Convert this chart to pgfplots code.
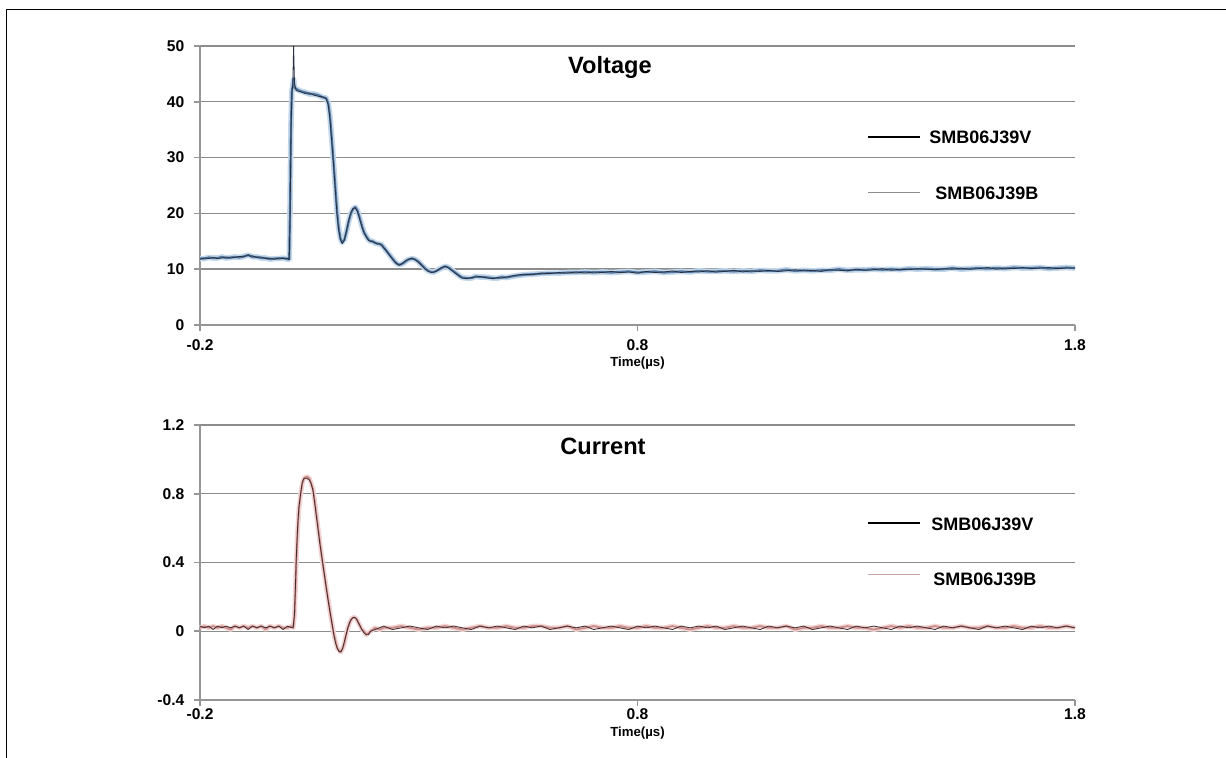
\documentclass[border=0pt]{standalone}
\usepackage{pgfplots}
\pgfplotsset{compat=1.18}
\usepackage{pgfplotstable}
\usepackage{fontspec}
\setmainfont{Liberation Sans}

\definecolor{axisgray}{RGB}{150,150,150}
\definecolor{gridgray}{RGB}{140,140,140}
\definecolor{vdark}{RGB}{38,48,62}
\definecolor{vblue}{RGB}{84,118,158}
\definecolor{vhalo}{RGB}{196,216,236}
\definecolor{cdark}{RGB}{62,44,44}
\definecolor{cred}{RGB}{205,140,140}
\definecolor{chalo}{RGB}{242,214,214}
\definecolor{legB}{RGB}{140,140,140}
\definecolor{legBc}{RGB}{205,168,168}

% clamping voltage, V
\pgfplotstableread{
t V B
-0.200 11.8 11.9
-0.190 12.0 11.9
-0.180 11.9 12.1
-0.170 12.1 12.0
-0.160 11.9 12.0
-0.150 12.0 12.2
-0.140 12.2 12.0
-0.130 12.0 12.1
-0.120 12.1 12.2
-0.110 12.3 12.1
-0.100 12.2 12.3
-0.090 12.6 12.5
-0.085 12.3 12.4
-0.080 12.4 12.2
-0.070 12.1 12.2
-0.060 12.2 12.0
-0.050 11.9 12.0
-0.040 12.0 11.8
-0.030 11.8 11.9
-0.020 12.0 11.9
-0.010 11.9 12.0
0.000 12.0 11.8
0.004 11.7 11.8
0.006 20.0 22.0
0.008 35.0 36.0
0.010 41.5 42.0
0.012 43.0 42.8
0.014 50.0 44.0
0.016 43.2 42.6
0.020 42.0 42.3
0.030 41.8 41.9
0.040 41.5 41.7
0.050 41.6 41.4
0.060 41.2 41.4
0.070 41.0 41.2
0.080 40.9 40.8
0.088 40.6 40.7
0.093 39.5 39.8
0.097 37.0 37.5
0.101 33.0 33.6
0.105 29.0 29.4
0.109 24.5 25.0
0.113 20.0 20.6
0.117 17.0 17.4
0.121 15.3 15.5
0.125 14.6 14.8
0.130 15.2 15.3
0.135 17.0 16.8
0.140 18.8 18.6
0.145 20.2 20.0
0.150 20.9 20.8
0.155 21.0 21.1
0.160 20.3 20.5
0.165 19.0 19.2
0.170 17.6 17.8
0.175 16.5 16.6
0.180 15.8 15.9
0.185 15.2 15.3
0.190 15.0 15.0
0.195 14.9 15.0
0.200 14.8 14.7
0.205 14.5 14.6
0.210 14.6 14.5
0.215 14.3 14.4
0.220 13.8 13.9
0.225 13.4 13.4
0.230 12.8 12.9
0.235 12.3 12.4
0.240 11.8 11.9
0.245 11.3 11.4
0.250 11.0 11.0
0.255 10.7 10.8
0.260 10.9 10.9
0.265 11.2 11.1
0.270 11.5 11.4
0.275 11.7 11.7
0.280 11.9 11.8
0.285 12.0 11.9
0.290 11.8 11.8
0.295 11.5 11.6
0.300 11.2 11.3
0.305 10.8 10.9
0.310 10.4 10.5
0.315 10.0 10.1
0.320 9.7 9.8
0.325 9.5 9.6
0.330 9.4 9.5
0.335 9.5 9.5
0.340 9.6 9.7
0.345 9.9 9.9
0.350 10.2 10.1
0.355 10.4 10.3
0.360 10.5 10.5
0.365 10.4 10.4
0.370 10.1 10.2
0.375 9.8 9.9
0.380 9.5 9.6
0.385 9.2 9.3
0.390 8.9 9.0
0.395 8.6 8.7
0.400 8.4 8.5
0.410 8.3 8.4
0.420 8.5 8.4
0.430 8.6 8.7
0.440 8.7 8.6
0.450 8.5 8.6
0.460 8.4 8.5
0.470 8.3 8.4
0.480 8.5 8.4
0.490 8.4 8.6
0.500 8.6 8.5
0.520 8.9 8.8
0.540 9.1 9.0
0.560 9.0 9.1
0.580 9.3 9.2
0.600 9.2 9.3
0.620 9.4 9.3
0.640 9.3 9.4
0.660 9.5 9.4
0.680 9.3 9.5
0.700 9.5 9.4
0.720 9.4 9.5
0.740 9.6 9.4
0.760 9.4 9.5
0.780 9.5 9.6
0.800 9.3 9.4
0.820 9.6 9.5
0.840 9.4 9.6
0.860 9.5 9.4
0.880 9.7 9.5
0.900 9.4 9.6
0.920 9.6 9.5
0.940 9.5 9.7
0.960 9.7 9.6
0.980 9.5 9.6
1.000 9.6 9.7
1.020 9.8 9.6
1.040 9.5 9.7
1.060 9.7 9.6
1.080 9.6 9.8
1.100 9.8 9.7
1.120 9.6 9.7
1.140 9.7 9.9
1.160 9.9 9.7
1.180 9.7 9.8
1.200 9.8 9.7
1.220 9.6 9.8
1.240 9.9 9.8
1.260 9.8 10.0
1.280 9.7 9.8
1.300 10.0 9.9
1.320 9.8 9.9
1.340 9.9 10.0
1.360 10.1 9.9
1.380 9.8 10.0
1.400 10.0 9.9
1.420 9.9 10.1
1.440 10.1 10.0
1.460 10.0 10.1
1.480 9.9 10.0
1.500 10.1 10.0
1.520 10.0 10.2
1.540 10.2 10.0
1.560 10.0 10.1
1.580 10.1 10.2
1.600 10.3 10.1
1.620 10.0 10.2
1.640 10.2 10.1
1.660 10.1 10.3
1.680 10.3 10.2
1.700 10.1 10.2
1.720 10.2 10.3
1.740 10.3 10.1
1.760 10.1 10.2
1.780 10.2 10.3
1.800 10.2 10.2
}\voltdata

% pulse current, A
\pgfplotstableread{
t V B
-0.200 0.03 0.02
-0.190 0.02 0.03
-0.180 0.03 0.02
-0.170 0.01 0.03
-0.160 0.03 0.02
-0.150 0.02 0.03
-0.140 0.03 0.02
-0.130 0.02 0.01
-0.120 0.03 0.03
-0.110 0.02 0.02
-0.100 0.03 0.03
-0.090 0.01 0.02
-0.080 0.03 0.03
-0.070 0.02 0.02
-0.060 0.03 0.03
-0.050 0.02 0.01
-0.040 0.03 0.03
-0.030 0.02 0.02
-0.020 0.03 0.03
-0.010 0.01 0.02
0.000 0.03 0.02
0.010 0.02 0.03
0.013 0.02 0.02
0.016 0.10 0.09
0.018 0.25 0.23
0.020 0.42 0.40
0.023 0.60 0.58
0.026 0.72 0.71
0.030 0.80 0.80
0.034 0.87 0.86
0.038 0.89 0.89
0.044 0.89 0.90
0.050 0.88 0.89
0.054 0.86 0.86
0.058 0.82 0.83
0.062 0.75 0.76
0.066 0.67 0.68
0.070 0.59 0.60
0.074 0.51 0.52
0.078 0.44 0.44
0.082 0.37 0.37
0.086 0.30 0.30
0.090 0.23 0.23
0.094 0.16 0.17
0.098 0.10 0.10
0.102 0.04 0.04
0.106 -0.02 -0.02
0.110 -0.07 -0.06
0.114 -0.10 -0.10
0.118 -0.12 -0.11
0.122 -0.12 -0.12
0.126 -0.10 -0.10
0.130 -0.06 -0.07
0.134 -0.02 -0.02
0.138 0.02 0.02
0.142 0.05 0.05
0.146 0.07 0.07
0.150 0.08 0.08
0.154 0.08 0.08
0.158 0.07 0.07
0.162 0.05 0.05
0.166 0.03 0.03
0.170 0.01 0.01
0.175 -0.01 0.00
0.180 -0.02 -0.02
0.185 -0.02 -0.01
0.190 0.00 0.00
0.200 0.01 0.02
0.210 0.02 0.01
0.220 0.03 0.02
0.240 0.01 0.02
0.260 0.02 0.03
0.280 0.03 0.02
0.300 0.02 0.01
0.320 0.01 0.02
0.340 0.03 0.02
0.360 0.02 0.03
0.380 0.03 0.02
0.400 0.02 0.01
0.420 0.01 0.02
0.440 0.03 0.03
0.460 0.02 0.02
0.480 0.03 0.02
0.500 0.02 0.03
0.520 0.01 0.02
0.540 0.03 0.02
0.560 0.02 0.03
0.580 0.03 0.03
0.600 0.01 0.02
0.620 0.02 0.02
0.640 0.03 0.03
0.660 0.02 0.01
0.680 0.03 0.02
0.700 0.01 0.03
0.720 0.02 0.02
0.740 0.03 0.02
0.760 0.02 0.03
0.780 0.01 0.02
0.800 0.03 0.02
0.820 0.02 0.03
0.840 0.03 0.02
0.860 0.02 0.02
0.880 0.01 0.03
0.900 0.03 0.02
0.920 0.02 0.01
0.940 0.03 0.02
0.960 0.02 0.03
0.980 0.03 0.02
1.000 0.01 0.02
1.020 0.02 0.03
1.040 0.03 0.02
1.060 0.02 0.02
1.080 0.01 0.03
1.100 0.03 0.02
1.120 0.02 0.02
1.140 0.03 0.03
1.160 0.02 0.01
1.180 0.03 0.02
1.200 0.01 0.02
1.220 0.02 0.03
1.240 0.03 0.02
1.260 0.02 0.02
1.280 0.01 0.03
1.300 0.03 0.02
1.320 0.02 0.02
1.340 0.03 0.01
1.360 0.02 0.02
1.380 0.01 0.03
1.400 0.03 0.02
1.420 0.02 0.03
1.440 0.03 0.02
1.460 0.02 0.02
1.480 0.01 0.03
1.500 0.03 0.02
1.520 0.02 0.02
1.540 0.03 0.03
1.560 0.02 0.02
1.580 0.01 0.02
1.600 0.03 0.03
1.620 0.02 0.02
1.640 0.03 0.02
1.660 0.02 0.03
1.680 0.01 0.02
1.700 0.03 0.02
1.720 0.02 0.03
1.740 0.03 0.02
1.760 0.02 0.02
1.780 0.03 0.03
1.800 0.02 0.02
}\currdata

\pgfplotsset{
  scopeplot/.style={
    scale only axis, width=437.5pt,
    xmin=-0.2, xmax=1.8,
    clip=false,
    axis x line*=bottom, axis y line*=left,
    axis line style={draw=axisgray, line width=1pt},
    xtick={-0.2,0.8,1.8}, xticklabels={-0.2,0.8,1.8},
    ymajorgrids, grid style={draw=gridgray, line width=0.7pt},
    tick align=outside, major tick length=2.8pt,
    tick style={draw=axisgray, line width=0.8pt},
    tick label style={font=\fontsize{7.8pt}{9pt}\selectfont\bfseries},
    yticklabel style={xshift=-1.5pt},
    xticklabel style={yshift=-1.2pt},
    xlabel style={font=\fontsize{6.6pt}{8pt}\selectfont\bfseries, anchor=center,
      at={(axis description cs:0.5,0)}},
    xlabel={Time(µs)},
  },
}

\begin{document}
\begin{tikzpicture}
\useasboundingbox (0,0) rectangle (613pt,-379pt);
% figure frame
\draw[line width=0.75pt] (3.25pt,-380pt) -- (3.25pt,-4.75pt) -- (614pt,-4.75pt);

% voltage
\begin{axis}[scopeplot,
  at={(100pt,-162.5pt)}, anchor=south west, height=139.5pt,
  ymin=0, ymax=50,
  ytick={0,10,20,30,40,50}, yticklabels={0,10,20,30,40,50},
  xlabel style={yshift=-19pt},
]
\addplot[vblue, line width=1.1pt, line join=round,
  preaction={draw=vhalo, line width=2.8pt}] table[x=t, y=B] {\voltdata};
\addplot[vdark, line width=0.4pt, line join=round] table[x=t, y=V] {\voltdata};
\node[font=\fontsize{11.8pt}{14pt}\selectfont\bfseries] at (axis cs:0.737,46.1) {Voltage};
\end{axis}

% current
\begin{axis}[scopeplot,
  at={(100pt,-350pt)}, anchor=south west, height=137.5pt,
  ymin=-0.4, ymax=1.2,
  ytick={-0.4,0,0.4,0.8,1.2}, yticklabels={-0.4,0,0.4,0.8,1.2},
  xticklabel style={yshift=3.2pt},
  xlabel style={yshift=-16.5pt},
]
\addplot[cred, line width=0.9pt, line join=round,
  preaction={draw=chalo, line width=2.4pt}] table[x=t, y=B] {\currdata};
\addplot[cdark, line width=0.4pt, line join=round] table[x=t, y=V] {\currdata};
\node[font=\fontsize{11.8pt}{14pt}\selectfont\bfseries] at (axis cs:0.721,1.078) {Current};
\end{axis}

% legends
\begin{scope}[x=0.5pt, y=-0.5pt, font=\fontsize{9pt}{11pt}\selectfont\bfseries]
\draw[black, line width=0.75pt] (868,137) -- (920,137);
\node[anchor=west, inner sep=0pt] at (929,137) {SMB06J39V};
\draw[legB, line width=0.5pt] (868,193) -- (920,193);
\node[anchor=west, inner sep=0pt] at (935,193) {SMB06J39B};
\draw[black, line width=0.75pt] (868,523) -- (920,523);
\node[anchor=west, inner sep=0pt] at (931,524) {SMB06J39V};
\draw[legBc, line width=0.5pt] (868,575) -- (920,575);
\node[anchor=west, inner sep=0pt] at (933,579) {SMB06J39B};
\end{scope}
\end{tikzpicture}
\end{document}
